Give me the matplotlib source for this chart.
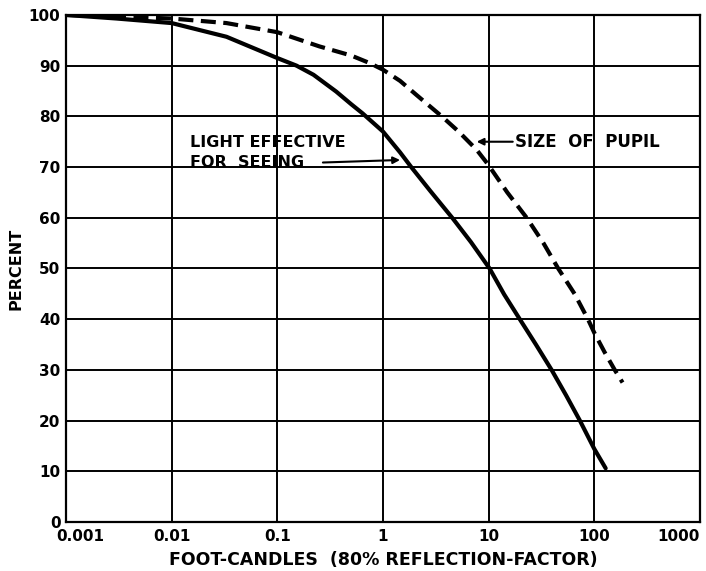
"""
Light effective for seeing vs. size of pupil, over illumination level.
"""

import matplotlib
matplotlib.use("Agg")
import matplotlib.pyplot as plt
from matplotlib.transforms import ScaledTranslation

# ── Data ────────────────────────────────────────────────────
seeing_fc  = [0.001, 0.003, 0.01, 0.033, 0.1, 0.152, 0.22, 0.36, 0.5,
              0.64, 1.0, 1.45, 1.85, 2.8, 4.6, 6.8, 10.2, 14, 19.7,
              28, 39.4, 54, 73, 100, 128]
seeing_pct = [100, 99.3, 98.4, 95.7, 91.5, 90, 88.2, 84.9, 82.4,
              80.6, 77.0, 72.9, 70, 65.3, 59.8, 55.2, 50.0, 44.9, 40,
              35, 30, 25, 20, 14.4, 10.6]

pupil_fc  = [0.001, 0.01, 0.033, 0.1, 0.25, 0.5, 0.75, 1.0, 1.45,
             2.08, 3.6, 5.2, 7.7, 9.8, 15, 22.9, 33, 45.5, 65,
             87, 100, 125, 156, 185]
pupil_pct = [100, 99.3, 98.4, 96.6, 93.8, 92, 90.5, 89.2, 87,
             84.2, 80, 77, 73.4, 70.6, 65, 60, 55, 50, 45,
             40, 37.3, 33.5, 30, 27.5]

x_ticks  = [0.001, 0.01, 0.1, 1, 10, 100, 1000]
x_labels = ["0.001", "0.01", "0.1", "1", "10", "100", "1000"]
y_ticks  = list(range(0, 101, 10))

plt.rcParams["font.family"] = "DejaVu Sans"
plt.rcParams["font.weight"] = "bold"

fig = plt.figure(figsize=(7.06, 5.71), dpi=100)
ax = fig.add_axes([0.0935, 0.0858, 0.898, 0.888])

ax.plot(seeing_fc, seeing_pct, color="black", lw=3,
        solid_capstyle="round", solid_joinstyle="round")
ax.plot(pupil_fc, pupil_pct, color="black", lw=3, linestyle=(0, (3.6, 1.8)),
        dash_capstyle="butt", dash_joinstyle="round")

ax.set_xscale("log")
ax.set_xlim(0.001, 1000)
ax.set_ylim(0, 100)
ax.set_xticks(x_ticks, x_labels)
ax.minorticks_off()
ax.set_yticks(y_ticks)
ax.tick_params(length=0, labelsize=11, pad=5)
ax.tick_params(axis="y", pad=4)

# end labels sit inside the plot edges, as in the original print
ticks = ax.xaxis.get_major_ticks()
first = ticks[0].label1
first.set_horizontalalignment("left")
first.set_transform(first.get_transform()
                    + ScaledTranslation(-0.10, 0, fig.dpi_scale_trans))
ticks[-1].label1.set_horizontalalignment("right")
for lab in ax.get_xticklabels() + ax.get_yticklabels():
    lab.set_fontweight("bold")

ax.grid(True, color="black", lw=1.4)
for sp in ax.spines.values():
    sp.set_linewidth(1.6)

# annotations
ax.annotate("", xy=(1.45, 71.4), xytext=(0.27, 70.9),
            arrowprops=dict(arrowstyle="-|>", color="black", lw=1.5,
                            mutation_scale=10, shrinkA=0, shrinkB=0))
ax.text(0.0149, 72.9, "LIGHT EFFECTIVE\nFOR  SEEING", fontsize=11.5,
        fontweight="bold", va="center", ha="left", linespacing=1.45)

ax.annotate("", xy=(7.7, 75), xytext=(16.9, 75),
            arrowprops=dict(arrowstyle="-|>", color="black", lw=1.5,
                            mutation_scale=10, shrinkA=0, shrinkB=0))
ax.text(17.7, 75, "SIZE  OF  PUPIL", fontsize=12, fontweight="bold",
        va="center", ha="left")

ax.set_ylabel("PERCENT", fontsize=11.5, fontweight="bold", labelpad=4)
ax.set_xlabel("FOOT-CANDLES  (80% REFLECTION-FACTOR)", fontsize=12.5,
              fontweight="bold", labelpad=5)

fig.savefig("out.png", dpi=100)
